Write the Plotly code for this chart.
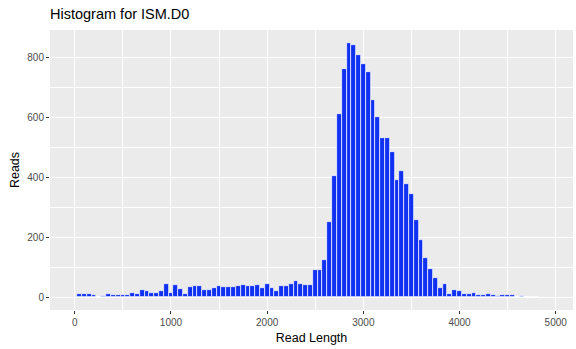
import plotly.graph_objects as go

# Bin centers (binwidth 50) and counts
bin_centers = [50, 100, 150, 200, 250, 300, 350, 400, 450, 500,
               550, 600, 650, 700, 750, 800, 850, 900, 950, 1000,
               1050, 1100, 1150, 1200, 1250, 1300, 1350, 1400, 1450, 1500,
               1550, 1600, 1650, 1700, 1750, 1800, 1850, 1900, 1950, 2000,
               2050, 2100, 2150, 2200, 2250, 2300, 2350, 2400, 2450, 2500,
               2550, 2600, 2650, 2700, 2750, 2800, 2850, 2900, 2950, 3000,
               3050, 3100, 3150, 3200, 3250, 3300, 3350, 3400, 3450, 3500,
               3550, 3600, 3650, 3700, 3750, 3800, 3850, 3900, 3950, 4000,
               4050, 4100, 4150, 4200, 4250, 4300, 4350, 4400, 4450, 4500,
               4550, 4600, 4650, 4700, 4750, 4800]
counts = [12, 13, 10, 8, 2, 4, 10, 8, 7, 9,
          8, 16, 13, 24, 22, 15, 16, 22, 44, 15,
          42, 29, 12, 36, 37, 38, 26, 26, 33, 37,
          36, 36, 36, 38, 42, 38, 38, 42, 33, 44,
          33, 20, 38, 37, 46, 54, 46, 43, 42, 91,
          91, 126, 252, 406, 611, 764, 849, 843, 809, 780,
          753, 660, 602, 534, 533, 487, 391, 422, 379, 344,
          260, 191, 131, 96, 65, 31, 44, 12, 24, 20,
          13, 13, 16, 9, 9, 11, 9, 4, 8, 8,
          8, 1, 6, 2, 1, 1]

x_tickvals = [0, 1000, 2000, 3000, 4000, 5000]
x_ticktext = ["0", "1000", "2000", "3000", "4000", "5000"]
y_tickvals = [0, 200, 400, 600, 800]
y_ticktext = ["0", "200", "400", "600", "800"]

title_text = "Histogram for ISM.D0"
x_title = "Read Length"
y_title = "Reads"

FONT = "Liberation Sans, Arial, sans-serif"

fig = go.Figure(go.Bar(
    x=bin_centers, y=counts, width=50,
    marker=dict(color="#1030f2", line=dict(color="white", width=0.7)),
    hoverinfo="x+y",
))

fig.update_layout(
    width=576, height=349,
    margin=dict(l=50, r=3, t=30, b=39, autoexpand=False),
    paper_bgcolor="white",
    plot_bgcolor="#EBEBEB",
    showlegend=False,
    bargap=0,
    font=dict(family=FONT, color="#4D4D4D", size=10),
    title=dict(text=title_text, x=50/576, xanchor="left", y=1-14/349, yanchor="middle",
               font=dict(family=FONT, size=14.5, color="black")),
)

fig.update_xaxes(
    automargin=False,
    range=[-258, 5180],
    tickvals=x_tickvals, ticktext=x_ticktext,
    showgrid=True, gridcolor="white", gridwidth=1.1,
    minor=dict(dtick=500, tick0=500, showgrid=True, gridcolor="white", gridwidth=0.5),
    zeroline=False, showline=False,
    ticks="outside", ticklen=3, tickcolor="#333333", tickwidth=1,
    tickfont=dict(family=FONT, size=10, color="#4D4D4D"),
    title=dict(text=x_title, standoff=6, font=dict(family=FONT, size=12.5, color="black")),
)

fig.update_yaxes(
    automargin=False,
    range=[-42, 893],
    tickvals=y_tickvals, ticktext=y_ticktext,
    showgrid=True, gridcolor="white", gridwidth=1.1,
    minor=dict(dtick=200, tick0=100, showgrid=True, gridcolor="white", gridwidth=0.5),
    zeroline=False, showline=False,
    ticks="outside", ticklen=3, tickcolor="#333333", tickwidth=1,
    tickfont=dict(family=FONT, size=10, color="#4D4D4D"),
    title=dict(text=y_title, standoff=4, font=dict(family=FONT, size=12.5, color="black")),
)

fig.write_html("out.html",
               config={"displayModeBar": False},
               post_script="document.body.style.margin='0';document.body.style.overflow='hidden';")
